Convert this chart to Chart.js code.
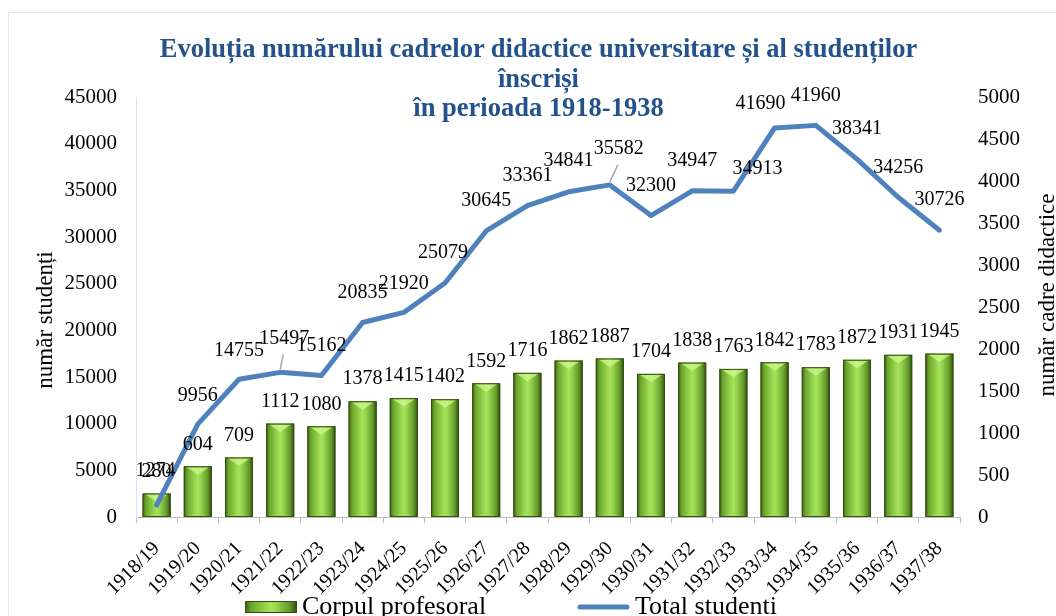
<!DOCTYPE html>
<html lang="ro">
<head>
<meta charset="utf-8">
<title>Evoluția numărului cadrelor didactice universitare și al studenților</title>
<script src="https://cdn.jsdelivr.net/npm/chart.js@4.4.1/dist/chart.umd.min.js"></script>
<style>
  html, body { margin: 0; padding: 0; background: #fff; overflow: hidden; }
  #wrap { position: relative; width: 1056px; height: 629px; }
  #frame {
    position: absolute; left: 8px; top: 12px; width: 1200px; height: 800px;
    border: 1px solid #d7eaf3; pointer-events: none;
  }
  #title {
    position: absolute; left: 0; top: 34px; width: 1077px; text-align: center;
    font: bold 26.5px/29.5px "Liberation Serif", "Times New Roman", serif;
    color: #23528c;
  }
  canvas { position: absolute; left: 0; top: 0; }
</style>
</head>
<body>
<div id="wrap">
  <div id="frame"></div>
  <canvas id="chart" width="1056" height="629"></canvas>
  <div id="title">Evoluția numărului cadrelor didactice universitare și al studenților<br>înscriși<br>în perioada 1918-1938</div>
</div>
<script>
// Ani universitari
const years = ['1918/19', '1919/20', '1920/21', '1921/22', '1922/23', '1923/24', '1924/25',
  '1925/26', '1926/27', '1927/28', '1928/29', '1929/30', '1930/31', '1931/32', '1932/33',
  '1933/34', '1934/35', '1935/36', '1936/37', '1937/38'];

// Corpul profesoral (axa din dreapta)
const cadre = [280, 604, 709, 1112, 1080, 1378, 1415, 1402, 1592, 1716,
  1862, 1887, 1704, 1838, 1763, 1842, 1783, 1872, 1931, 1945];

// Total studenti (axa din stanga)
const studenti = [1274, 9956, 14755, 15497, 15162, 20835, 21920, 25079, 30645, 33361,
  34841, 35582, 32300, 34947, 34913, 41690, 41960, 38341, 34256, 30726];

// label placement for the line (offset from the point, px)
const lblDx = [-1, 0, 0, 4, 0, 0, 0, -2, 0, 0, 0, 9, 0, 0, 24, -14, 0, 0, 0, 0];
const lblDy = [-34, -28, -29, -34, -30, -30, -29, -30, -30, -30, -31, -36, -30, -30, -22, -24, -30, -30, -30, -30];
const leaders = [3, 11];

const SERIF = '"Liberation Serif", "Times New Roman", serif';
Chart.defaults.font.family = SERIF;
Chart.defaults.color = '#000';

function barGradient(ctx, left, width) {
  const g = ctx.createLinearGradient(left, 0, left + width, 0);
  g.addColorStop(0, '#3d5c14');
  g.addColorStop(0.12, '#6aa62c');
  g.addColorStop(0.4, '#98d64e');
  g.addColorStop(0.5, '#a6e25c');
  g.addColorStop(0.6, '#98d64e');
  g.addColorStop(0.86, '#62992a');
  g.addColorStop(1, '#2f4a10');
  return g;
}

// 3D-ish look for the bars
const barBevel = {
  id: 'barBevel',
  afterDatasetDraw(chart, args) {
    if (args.index !== 0) return;
    const ctx = chart.ctx;
    ctx.save();
    args.meta.data.forEach(el => {
      const {x, y, base, width} = el.getProps(['x', 'y', 'base', 'width'], true);
      const left = x - width / 2;
      const h = base - y;
      ctx.fillStyle = barGradient(ctx, left, width);
      ctx.fillRect(left, y, width, h);
      const d = Math.min(width * 0.3, h * 0.45);
      ctx.beginPath();
      ctx.moveTo(left + 3, y + 1);
      ctx.lineTo(left + width - 3, y + 1);
      ctx.lineTo(x, y + d);
      ctx.closePath();
      ctx.fillStyle = 'rgba(205, 248, 140, 0.75)';
      ctx.fill();
      ctx.beginPath();
      ctx.moveTo(left + 3, base);
      ctx.lineTo(left + width - 3, base);
      ctx.lineTo(x, base - Math.min(d * 0.6, h * 0.3));
      ctx.closePath();
      ctx.fillStyle = 'rgba(160, 220, 90, 0.45)';
      ctx.fill();
      ctx.strokeStyle = '#34500f';
      ctx.lineWidth = 1;
      ctx.strokeRect(left + 0.5, y + 0.5, width - 1, h - 1);
    });
    ctx.restore();
  }
};

// value labels + axis titles + legend
const labelsPlugin = {
  id: 'valueLabels',
  afterDraw(chart) {
    const ctx = chart.ctx;
    ctx.save();
    ctx.font = '20px ' + SERIF;
    ctx.fillStyle = '#000';
    ctx.textAlign = 'center';
    ctx.textBaseline = 'middle';
    chart.getDatasetMeta(0).data.forEach((el, i) => {
      ctx.fillText(String(cadre[i]), el.x, el.y - 22);
    });
    chart.getDatasetMeta(1).data.forEach((el, i) => {
      const tx = el.x + lblDx[i];
      const ty = el.y + lblDy[i];
      if (leaders.includes(i)) {
        ctx.strokeStyle = '#a6a6a6';
        ctx.lineWidth = 1.5;
        ctx.beginPath();
        ctx.moveTo(tx - 1, ty + 16);
        ctx.lineTo(el.x, el.y - 3);
        ctx.stroke();
      }
      ctx.fillText(String(studenti[i]), tx, ty);
    });

    // axis titles
    const {top, bottom} = chart.chartArea;
    const mid = (top + bottom) / 2;
    ctx.font = '23px ' + SERIF;
    ctx.translate(46, mid + 13);
    ctx.rotate(-Math.PI / 2);
    ctx.fillText('număr studenți', 0, 0);
    ctx.setTransform(1, 0, 0, 1, 0, 0);
    ctx.translate(1048, mid - 12);
    ctx.rotate(-Math.PI / 2);
    ctx.fillText('număr cadre didactice', 0, 0);
    ctx.setTransform(1, 0, 0, 1, 0, 0);

    // legend
    const ds = chart.data.datasets;
    const ly = 607;
    ctx.font = '26px ' + SERIF;
    ctx.textAlign = 'left';
    ctx.fillStyle = barGradient(ctx, 245, 52);
    ctx.fillRect(245, ly - 6, 52, 12);
    ctx.strokeStyle = '#34500f';
    ctx.lineWidth = 1;
    ctx.strokeRect(245.5, ly - 5.5, 51, 11);
    ctx.fillStyle = '#000';
    ctx.fillText(ds[0].label, 302, ly);
    ctx.strokeStyle = ds[1].borderColor;
    ctx.lineWidth = 5;
    ctx.lineCap = 'round';
    ctx.beginPath();
    ctx.moveTo(580, ly);
    ctx.lineTo(627, ly);
    ctx.stroke();
    ctx.fillText(ds[1].label, 635, ly);
    ctx.restore();
  }
};

const plainTick = v => String(v);

new Chart(document.getElementById('chart'), {
  data: {
    labels: years,
    datasets: [{
      type: 'bar',
      label: 'Corpul profesoral',
      data: cadre,
      yAxisID: 'y1',
      order: 1,
      backgroundColor: '#7dbb3c',
      borderColor: '#34500f',
      borderWidth: 1,
      categoryPercentage: 1,
      barPercentage: 0.68
    }, {
      type: 'line',
      label: 'Total studenti',
      data: studenti,
      yAxisID: 'y',
      order: 0,
      borderColor: '#4f81bd',
      backgroundColor: '#4f81bd',
      borderWidth: 5,
      borderCapStyle: 'round',
      borderJoinStyle: 'round',
      pointRadius: 0,
      tension: 0
    }]
  },
  options: {
    responsive: false,
    animation: false,
    layout: { padding: { top: 97, right: 0, bottom: 0, left: 0 } },
    plugins: {
      tooltip: { enabled: false },
      legend: { display: false }
    },
    scales: {
      x: {
        offset: true,
        grid: { drawOnChartArea: false, tickLength: 6, color: '#bfbfbf' },
        border: { color: '#bfbfbf' },
        ticks: { font: { size: 20 }, color: '#000', minRotation: 45, maxRotation: 45, autoSkip: false, padding: 14 },
        afterFit: s => { s.height = 112; }
      },
      y: {
        position: 'left',
        min: 0,
        max: 45000,
        grid: { display: false },
        border: { display: true, color: '#d6e6f0' },
        ticks: { stepSize: 5000, font: { size: 21 }, color: '#000', padding: 11, callback: plainTick },
        afterFit: s => { s.width = 136; }
      },
      y1: {
        position: 'right',
        min: 0,
        max: 5000,
        grid: { display: false },
        border: { display: false },
        ticks: { stepSize: 500, font: { size: 21 }, color: '#000', padding: 10, callback: plainTick },
        afterFit: s => { s.width = 96; }
      }
    }
  },
  plugins: [barBevel, labelsPlugin]
});
</script>
</body>
</html>
